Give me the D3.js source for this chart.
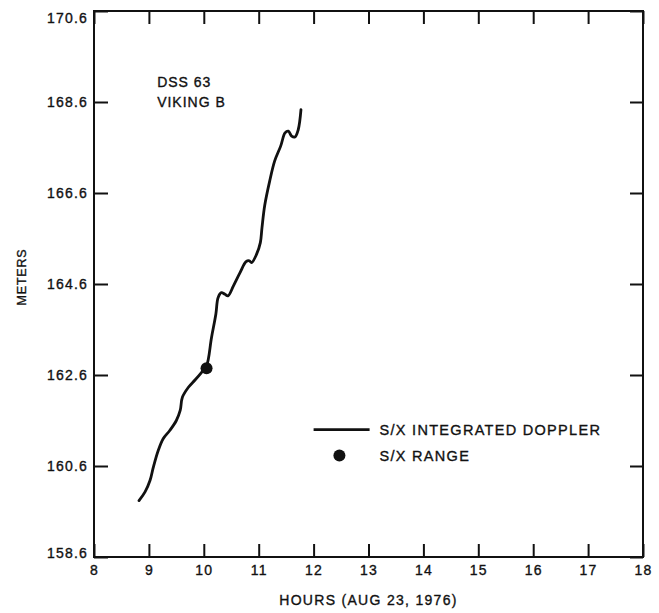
<!DOCTYPE html>
<html>
<head>
<meta charset="utf-8">
<script src="https://cdn.jsdelivr.net/npm/d3@7"></script>
<style>
  body { margin: 0; background: #fff; }
  svg text { font-family: "Liberation Sans", Arial, sans-serif; fill: #111; stroke: #111; stroke-width: 0.35px; }
</style>
</head>
<body>
<svg id="chart"></svg>
<script>
// hours (UT) and integrated doppler range change (meters)
const dopplerHours = [8.82, 8.93, 9.02, 9.08, 9.17, 9.26, 9.38, 9.50, 9.57, 9.61, 9.72, 9.84, 9.96,
  10.05, 10.14, 10.22, 10.26, 10.32, 10.38, 10.44, 10.54, 10.66, 10.77, 10.83, 10.87, 10.96,
  11.03, 11.06, 11.11, 11.20, 11.29, 11.40, 11.48, 11.54, 11.60, 11.66, 11.72, 11.77];
const dopplerMeters = [159.84, 160.03, 160.28, 160.57, 160.94, 161.20, 161.38, 161.60, 161.82, 162.11, 162.33, 162.49, 162.66,
  162.80, 163.42, 163.94, 164.30, 164.41, 164.38, 164.34, 164.56, 164.85, 165.09, 165.11, 165.07, 165.25,
  165.51, 165.84, 166.33, 166.86, 167.30, 167.63, 167.92, 167.96, 167.85, 167.83, 167.99, 168.43];
const rangeHours = [10.05];
const rangeMeters = [162.75];
const xTicks = [8, 9, 10, 11, 12, 13, 14, 15, 16, 17, 18];
const yTicks = [158.6, 160.6, 162.6, 164.6, 166.6, 168.6, 170.6];

const width = 659, height = 613;
const margin = { top: 11, right: 16, bottom: 56, left: 94 };
const w = width - margin.left - margin.right;
const h = height - margin.top - margin.bottom;

const svg = d3.select("#chart").attr("width", width).attr("height", height);
const g = svg.append("g").attr("transform", `translate(${margin.left},${margin.top})`);

const x = d3.scaleLinear().domain([8, 18]).range([0, w]);
const y = d3.scaleLinear().domain([158.6, 170.6]).range([h, 0]);

// axes, ticks pointing inward
g.append("g").attr("transform", `translate(0,${h})`)
  .call(d3.axisBottom(x).tickValues(xTicks).tickSizeInner(-13).tickSizeOuter(0).tickPadding(8).tickFormat(d3.format("d")));
g.append("g")
  .call(d3.axisTop(x).tickValues(xTicks).tickSizeInner(-13).tickSizeOuter(0).tickFormat(""));
const yAxis = g.append("g")
  .call(d3.axisLeft(y).tickValues(yTicks).tickSizeInner(-14).tickSizeOuter(0).tickPadding(6).tickFormat(d3.format(".1f")));
g.append("g").attr("transform", `translate(${w},0)`)
  .call(d3.axisRight(y).tickValues(yTicks).tickSizeInner(-13).tickSizeOuter(0).tickFormat(""));

g.selectAll(".domain").remove();
g.selectAll(".tick line").attr("stroke", "#111").attr("stroke-width", 2);
g.selectAll(".tick text").attr("font-size", 14).attr("letter-spacing", "1.2px");

// nudge the corner labels as in the original
yAxis.selectAll(".tick text").filter(d => d === 170.6).attr("dy", "0.85em");
yAxis.selectAll(".tick text").filter(d => d === 158.6).attr("dy", "0.05em");

// frame
g.append("rect")
  .attr("width", w).attr("height", h)
  .attr("fill", "none").attr("stroke", "#111").attr("stroke-width", 2);

// doppler curve
const pts = dopplerHours.map((d, i) => [d, dopplerMeters[i]]);
const line = d3.line()
  .x(d => x(d[0]))
  .y(d => y(d[1]))
  .curve(d3.curveCatmullRom.alpha(0.5));

g.append("path")
  .datum(pts)
  .attr("d", line)
  .attr("fill", "none")
  .attr("stroke", "#111")
  .attr("stroke-width", 2.8)
  .attr("stroke-linejoin", "round")
  .attr("stroke-linecap", "round");

// range point
g.selectAll(".range")
  .data(rangeHours)
  .enter()
  .append("circle")
  .attr("class", "range")
  .attr("cx", d => x(d))
  .attr("cy", (d, i) => y(rangeMeters[i]))
  .attr("r", 6)
  .attr("fill", "#111");

// station label
const note = g.append("text").attr("font-size", 14).attr("letter-spacing", "1px");
note.append("tspan").attr("x", x(9.15)).attr("y", y(168.92)).text("DSS 63");
note.append("tspan").attr("x", x(9.15)).attr("y", y(168.5)).text("VIKING B");

// legend
const legY = y(161.4);
g.append("line")
  .attr("x1", x(12.0)).attr("x2", x(13.02))
  .attr("y1", legY).attr("y2", legY)
  .attr("stroke", "#111").attr("stroke-width", 2.8);
g.append("text").attr("x", x(13.2)).attr("y", legY + 5)
  .attr("font-size", 14.5).attr("letter-spacing", "1.3px")
  .text("S/X INTEGRATED DOPPLER");
g.append("circle").attr("cx", x(12.47)).attr("cy", legY + 26).attr("r", 6).attr("fill", "#111");
g.append("text").attr("x", x(13.2)).attr("y", legY + 31)
  .attr("font-size", 14.5).attr("letter-spacing", "1.3px")
  .text("S/X RANGE");

// axis titles
svg.append("text")
  .attr("x", margin.left + w / 2).attr("y", 605)
  .attr("text-anchor", "middle").attr("font-size", 14).attr("letter-spacing", "1.3px")
  .text("HOURS (AUG 23, 1976)");
svg.append("text")
  .attr("transform", `translate(26,277) rotate(-90)`)
  .attr("text-anchor", "middle").attr("font-size", 12.5).attr("letter-spacing", "0.8px")
  .text("METERS");
</script>
</body>
</html>
